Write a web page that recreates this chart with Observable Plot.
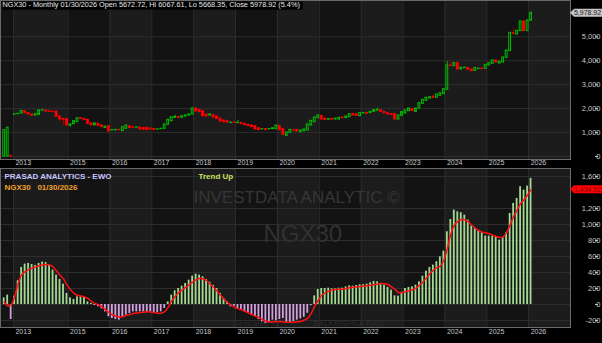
<!DOCTYPE html>
<html><head><meta charset="utf-8">
<script src="https://cdn.jsdelivr.net/npm/d3@7"></script>
<script src="https://cdn.jsdelivr.net/npm/@observablehq/plot@0.6"></script>
<style>
body{margin:0;background:#000;width:602px;height:343px;overflow:hidden;font-family:Arial,"Liberation Sans",sans-serif;}
#wrap{width:602px;height:343px;}
svg{display:block}
</style></head><body><div id="wrap"></div>
<script>
// ---- data (monthly bars, index 0 = first bar, Jan 2026 = last) ----
const yearLabels = ["2013","2015","2016","2017","2018","2019","2020","2021","2022","2023","2024","2025","2026"];
const yearIndex  = [2.66, 18.3, 30.3, 42.3, 54.3, 66.3, 78.3, 90.3, 102.3, 114.3, 126.3, 138.3, 150.3];

const open = [0,0,30,1745,1770,1796,1894,1810,1754,1710,
1740,1915,1921,1890,1870,1880,1671,1573,1560,1290,
1350,1434,1600,1575,1532,1380,1300,1375,1300,1190,
1265,1090,1095,1110,1060,1160,1260,1215,1200,1211,
1190,1200,1170,1150,1120,1145,1156,1323,1476,1615,
1650,1615,1671,1713,1754,2005,1950,1894,1754,1713,
1727,1671,1587,1504,1476,1400,1425,1395,1406,1365,
1323,1295,1267,1183,1135,1142,1135,1142,1142,1281,
1142,863,989,1095,1114,1016,1058,1086,1295,1434,
1601,1699,1587,1532,1575,1545,1545,1629,1601,1643,
1768,1760,1685,1800,1824,1810,1866,1921,1935,1866,
1800,1770,1768,1545,1699,1796,1894,1977,1866,2005,
2200,2325,2423,2506,2451,2534,2600,2785,3801,3773,
3899,3634,3690,3704,3634,3578,3655,3670,3662,3801,
3871,4010,3885,3926,4121,4400,5150,5096,5235,5639,
5235,5672.72];

const high = [1100,1200,40,1770,1795,1920,1905,1820,1765,1780,
1935,1940,1930,1900,1880,1890,1680,1580,1570,1350,
1485,1610,1610,1585,1540,1390,1390,1385,1310,1260,
1275,1115,1120,1120,1235,1305,1270,1225,1225,1220,
1200,1210,1180,1160,1145,1170,1345,1540,1655,1727,
1660,1695,1725,1765,2015,2015,1960,1905,1765,1765,
1740,1680,1595,1515,1485,1425,1435,1504,1415,1375,
1330,1305,1275,1190,1160,1150,1160,1190,1305,1290,
1150,1010,1125,1105,1120,1095,1135,1345,1500,1640,
1725,1710,1595,1570,1585,1590,1625,1640,1680,1780,
1780,1770,1820,1825,1835,1875,1945,2033,1945,1875,
1810,1780,1775,1720,1860,1930,2015,1990,2015,2240,
2380,2460,2490,2515,2600,2655,2825,3968,3968,3910,
3910,3715,3720,3715,3645,3700,3680,3680,3840,3910,
4020,4020,3965,4145,4440,5180,5361,5260,5650,5650,
5695,6067.61];

const low = [0,0,0,1735,1760,1785,1800,1745,1690,1700,
1730,1905,1870,1860,1850,1645,1462,1300,1285,1225,
1340,1425,1565,1510,1355,1290,1290,1275,1220,1180,
1035,1080,1085,1085,1050,1150,1175,1190,1190,1120,
1110,1090,1120,1105,1110,1135,1145,1315,1465,1605,
1605,1605,1660,1700,1745,1870,1840,1675,1660,1700,
1620,1550,1450,1425,1410,1390,1400,1385,1340,1300,
1255,1215,1120,1090,1125,1090,1125,1135,1135,1090,
895,855,980,1070,1035,1005,1050,1075,1285,1425,
1590,1535,1505,1520,1530,1535,1535,1590,1590,1630,
1705,1680,1675,1790,1770,1800,1855,1910,1855,1790,
1750,1730,1535,1535,1690,1785,1885,1885,1855,1995,
2190,2315,2410,2440,2440,2525,2590,2775,3770,3760,
3620,3620,3680,3610,3550,3565,3645,3640,3650,3790,
3860,3915,3875,3915,4110,4390,5100,5085,5225,5225,
5225,5668.35];

const close = [1100,1200,0,1760,1785,1907,1810,1754,1700,1768,
1921,1930,1880,1870,1860,1657,1545,1540,1295,1340,
1476,1601,1575,1520,1365,1300,1378,1285,1230,1250,
1044,1105,1110,1095,1225,1295,1183,1200,1215,1128,
1120,1100,1128,1114,1135,1160,1337,1532,1643,1650,
1615,1685,1713,1754,2005,1880,1852,1685,1671,1754,
1629,1559,1462,1434,1420,1415,1410,1410,1351,1309,
1267,1225,1128,1100,1150,1100,1150,1183,1295,1100,
905,1002,1114,1080,1044,1086,1128,1337,1490,1629,
1713,1545,1518,1559,1540,1580,1615,1601,1670,1768,
1713,1690,1810,1815,1782,1866,1935,1950,1866,1800,
1760,1740,1545,1713,1852,1921,2005,1894,2005,2228,
2367,2451,2478,2451,2590,2645,2810,3801,3780,3899,
3634,3704,3710,3620,3564,3690,3670,3650,3829,3899,
4010,3926,3954,4135,4428,5166,5124,5249,5639,5235,
5681,5978.92];

const ewo = [83,117,-188,104,296,463,505,513,500,488,
513,530,525,488,430,367,313,254,138,83,
63,96,96,88,33,13,-13,-29,-54,-92,
-154,-175,-188,-196,-154,-133,-113,-92,-92,-92,
-92,-92,-92,-104,-104,-92,-50,33,117,171,
200,229,263,304,354,379,367,346,313,279,
238,200,138,75,33,-29,-21,-50,-71,-92,
-113,-133,-154,-188,-217,-238,-229,-196,-204,-188,
-175,-229,-238,-213,-196,-180,-160,-110,-15,108,
188,200,200,204,196,196,204,204,221,233,
229,238,246,246,254,271,288,283,263,242,
213,179,108,104,154,200,213,221,242,283,
354,417,463,492,534,596,667,909,1063,1180,
1159,1147,1117,1055,980,950,921,896,855,855,
855,846,805,834,900,1138,1263,1326,1472,1430,
1480,1576];

const signal = [33,-15,-5,100,260,370,410,435,455,470,
485,495,500,495,470,420,365,320,242,185,
140,115,105,95,75,40,15,-5,-28,-65,
-100,-128,-148,-155,-152,-136,-125,-113,-106,-100,
-96,-92,-95,-100,-110,-110,-90,-35,45,100,
150,179,215,245,279,310,325,322,300,258,
215,170,117,70,25,-5,-35,-52,-66,-85,
-105,-125,-145,-165,-190,-210,-217,-217,-215,-213,
-218,-221,-221,-221,-215,-213,-195,-170,-110,-20,
50,115,145,165,180,188,190,192,200,208,
215,220,225,229,235,242,248,255,262,260,
250,220,190,150,148,160,172,185,205,240,
280,330,385,430,460,480,554,700,880,990,
1040,1060,1060,1035,990,955,925,905,897,885,
867,850,838,845,900,992,1100,1180,1263,1310,
1370,1435];

const priceTicks = [0,1000,2000,3000,4000,5000];
const ewoTicks = [-200,0,200,400,600,800,1000,1200,1600];
const header = "NGX30 - Monthly 01/30/2026 Open 5672.72, Hi 6067.61, Lo 5668.35, Close 5978.92 (5.4%)";
const lastClose = 5978.92, lastSignal = 1434.92;
const titleEwo = "PRASAD ANALYTICS - EWO";
const titleSym = "NGX30\u00a0\u00a0\u00a001/30/2026";
const trendText = "Trend Up";
const wm1 = "INVESTDATA ANALYTIC \u00a9", wm2 = "NGX30", wm3a = "Dedicated to", wm3b = "BALKRISHNA RAO";

// ---- derived tables ----
const xDomain = [-1.06, 162.3];
const bars = close.map((c,i)=>({i, o:open[i], h:high[i], l:low[i], c, up:c>=open[i]}));
const upBars = bars.filter(d=>d.up), dnBars = bars.filter(d=>!d.up);
const edges = [xDomain[0], ...yearIndex, xDomain[1]];
const bands = edges.slice(0,-1).map((a,k)=>({a, b:edges[k+1], k}));
const bandsDark = bands.filter(d=>d.k%2===0), bandsLight = bands.filter(d=>d.k%2===1);
const ew = ewo.map((v,i)=>({i, v, s:signal[i]}));
const fmt = d => d.toLocaleString("en-US");
const hw = 0.26;

function bandMarks(ylo, yhi){
  return [
    Plot.rect(bandsDark,{x1:"a",x2:"b",y1:ylo,y2:yhi,fill:"#131313"}),
    Plot.rect(bandsLight,{x1:"a",x2:"b",y1:ylo,y2:yhi,fill:"#1c1c1c"}),
  ];
}
function yearLabelMark(dy){
  return Plot.text(yearIndex,{x:d=>d,text:(d,i)=>yearLabels[i],frameAnchor:"bottom",dy,dx:2,
    textAnchor:"start",fill:"#c8c8c8",fontSize:7});
}

const topPlot = Plot.plot({
  width:602, height:168, marginLeft:0, marginRight:32, marginTop:0, marginBottom:9,
  style:{background:"#000", color:"#c8c8c8", fontFamily:"Arial, 'Liberation Sans', sans-serif", fontSize:"7px"},
  x:{domain:xDomain, axis:null},
  y:{domain:[-125,6516], axis:null},
  marks:[
    ...bandMarks(-125,6516),
    Plot.ruleY(priceTicks,{stroke:"#2d2d2d"}),
    Plot.ruleX(yearIndex,{stroke:"#2d2d2d"}),
    Plot.ruleX(upBars,{x:"i",y1:"h",y2:d=>Math.max(d.o,d.c),stroke:"#00a800"}),
    Plot.ruleX(upBars,{x:"i",y1:"l",y2:d=>Math.min(d.o,d.c),stroke:"#00a800"}),
    Plot.ruleX(dnBars,{x:"i",y1:"l",y2:"h",stroke:"#a00000"}),
    Plot.rect(upBars,{x1:d=>d.i-hw,x2:d=>d.i+hw,y1:"o",y2:"c",fill:"none",stroke:"#00c000",strokeWidth:1}),
    Plot.rect(dnBars,{x1:d=>d.i-hw,x2:d=>d.i+hw,y1:"o",y2:"c",fill:"#ff0000",stroke:"#ff0000",strokeWidth:1}),
    Plot.frame({stroke:"#6a6a6a"}),
    Plot.axisY(priceTicks,{anchor:"right",tickSize:3,tickPadding:3,tickFormat:fmt,textAnchor:"end",dx:24,
      color:"#c8c8c8",fontSize:7.5}),
    yearLabelMark(5),
    Plot.text([header],{frameAnchor:"top-left",dx:2,dy:1,lineAnchor:"top",fill:"#e8e8e8",fontSize:7.3,className:"hdr"}),
  ]
});

const botPlot = Plot.plot({
  width:602, height:175, marginLeft:0, marginRight:32, marginTop:0, marginBottom:16,
  style:{background:"#000", color:"#c8c8c8", fontFamily:"Arial, 'Liberation Sans', sans-serif", fontSize:"7px"},
  x:{domain:xDomain, axis:null},
  y:{domain:[-287.5,1700], axis:null},
  marks:[
    ...bandMarks(-287.5,1700),
    Plot.ruleY(ewoTicks,{stroke:"#2d2d2d"}),
    Plot.ruleX(yearIndex,{stroke:"#2d2d2d"}),
    Plot.text([wm1],{frameAnchor:"top-left",dx:193,dy:22,fill:"#363636",fontSize:17,textAnchor:"start"}),
    Plot.text([wm2],{frameAnchor:"top-left",dx:263,dy:56,fill:"#313131",fontSize:24,textAnchor:"start"}),
    Plot.text([wm3a],{frameAnchor:"top-left",dx:232,dy:152,fill:"#2e2e2e",fontSize:8,textAnchor:"start"}),
    Plot.text([wm3b],{frameAnchor:"top-left",dx:313,dy:152,fill:"#2e2e2e",fontSize:8,textAnchor:"start"}),
    Plot.rect(ew.filter(d=>d.v>=0),{x1:d=>d.i-hw,x2:d=>d.i+hw,y1:0,y2:"v",fill:"#a2d892"}),
    Plot.rect(ew.filter(d=>d.v<0),{x1:d=>d.i-hw,x2:d=>d.i+hw,y1:0,y2:"v",fill:"#d4a0e0"}),
    Plot.line(ew,{x:"i",y:"s",stroke:"#ff1010",strokeWidth:1.5,curve:"catmull-rom"}),
    Plot.frame({stroke:"#6a6a6a"}),
    Plot.axisY(ewoTicks,{anchor:"right",tickSize:3,tickPadding:3,tickFormat:fmt,textAnchor:"end",dx:24,
      color:"#c8c8c8",fontSize:7.5}),
    yearLabelMark(6),
    Plot.text([titleEwo],{frameAnchor:"top-left",dx:4,dy:5,fill:"#c4c4ff",fontSize:8,fontWeight:"bold",textAnchor:"start"}),
    Plot.text([titleSym],{frameAnchor:"top-left",dx:4,dy:16,fill:"#f0a028",fontSize:8,fontWeight:"bold",textAnchor:"start"}),
    Plot.text([trendText],{frameAnchor:"top-left",dx:198,dy:5,fill:"#c8e060",fontSize:8,fontWeight:"bold",textAnchor:"start"}),
  ]
});

const wrap = document.getElementById("wrap");
wrap.appendChild(topPlot);
wrap.appendChild(botPlot);

// header background box
{
  const t = d3.select(topPlot).select(".hdr text").node() || d3.select(topPlot).select(".hdr").node();
  if (t) {
    const bb = t.getBBox();
    d3.select(t.parentNode).insert("rect","text").attr("x",0).attr("y",0)
      .attr("width",bb.x+bb.width+3).attr("height",bb.y+bb.height+1).attr("fill","#000");
  }
}
// last-value tags on the right axis
function tag(plot, value, bg, fg){
  const y = plot.scale("y").apply(value);
  const g = d3.select(plot).append("g");
  const x0 = 570;
  g.append("path").attr("d",`M${x0},${y} L${x0+4},${y-4} L602,${y-4} L602,${y+4} L${x0+4},${y+4} Z`).attr("fill",bg);
  g.append("text").attr("x",574).attr("y",y).attr("dy","0.35em").attr("text-anchor","start")
    .attr("textLength",27).attr("lengthAdjust","spacingAndGlyphs")
    .attr("font-size",7).attr("font-family","Arial, 'Liberation Sans', sans-serif").attr("fill",fg).text(fmt(value));
}
tag(topPlot, lastClose, "#c4c4c4", "#1a1a1a");
tag(botPlot, lastSignal, "#ff0000", "#7a0000");
</script></body></html>
